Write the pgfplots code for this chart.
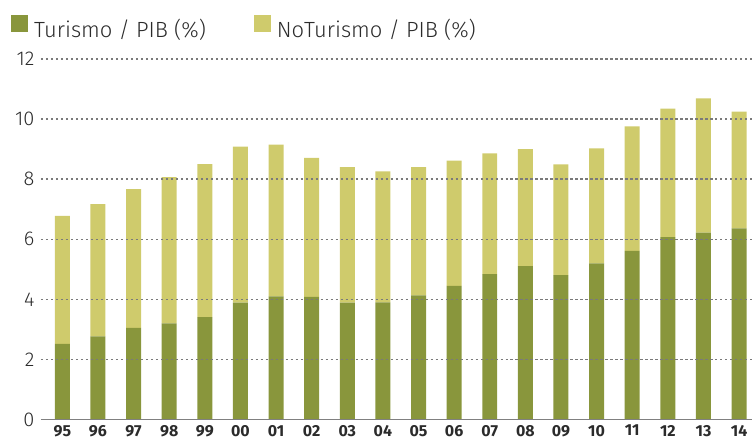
\documentclass[border=0pt]{standalone}
\usepackage{fontspec}
\setmainfont{Fira Sans Light}[BoldFont={Fira Sans Bold}]
\usepackage{pgfplots}
\usepackage{pgfplotstable}
\pgfplotsset{compat=1.18}
\definecolor{tur}{HTML}{89963C}
\definecolor{notur}{HTML}{CFCB6C}
\definecolor{txt}{HTML}{2B2B2B}
\definecolor{gridc}{HTML}{7A7A7A}
\pgfplotstableread{
x tur notur
0 2.52 4.26
1 2.77 4.40
2 3.05 4.62
3 3.20 4.87
4 3.41 5.09
5 3.89 5.19
6 4.10 5.05
7 4.08 4.63
8 3.89 4.51
9 3.90 4.36
10 4.13 4.27
11 4.45 4.17
12 4.84 4.02
13 5.11 3.89
14 4.81 3.68
15 5.20 3.82
16 5.61 4.15
17 6.07 4.28
18 6.22 4.47
19 6.36 3.89
}\data
\begin{document}
\begin{tikzpicture}
\begin{axis}[
  scale only axis, width=712pt, height=361pt,
  ybar stacked, bar width=15pt,
  xmin=-0.6, xmax=19.37, ymin=0, ymax=12,
  ytick={0,2,...,12},
  xtick={0,...,19},
  xticklabels={95,96,97,98,99,00,01,02,03,04,05,06,07,08,09,10,11,12,13,14},
  axis x line*=bottom, axis y line*=left,
  y axis line style={draw=none},
  x axis line style={draw=gray, line width=1.5pt, -},
  major tick length=0pt,
  ymajorgrids,
  grid style={draw=gridc, line width=1.4pt, dash pattern=on 2.2pt off 2.8pt},
  axis on top,
  /pgf/number format/assume math mode=true,
  yticklabel style={font=\fontsize{20}{20}\selectfont, text=txt, xshift=-3pt},
  xticklabel style={font=\bfseries\fontsize{16}{16}\selectfont, text=txt, yshift=-2pt},
  legend style={draw=none, fill=none, at={(rel axis cs:0,1)}, anchor=south west,
    xshift=-30pt, yshift=18pt, inner sep=0pt,
    font=\fontsize{22}{22}\selectfont, text=txt,
    /tikz/every odd column/.append style={column sep=4pt},
    /tikz/every even column/.append style={column sep=46pt}},
  legend columns=2,
  legend image code/.code={\fill[#1] (0pt,-3pt) rectangle (17pt,14pt);},
]
\addplot[fill=tur, draw=none] table[x=x, y=tur] {\data};
\addplot[fill=notur, draw=none] table[x=x, y=notur] {\data};
\legend{Turismo / PIB (\%), NoTurismo / PIB (\%)}
\end{axis}
\path (current axis.south west) ++(-41pt,-26pt) coordinate (bl);
\path (current axis.north east) ++(0pt,59pt) coordinate (tr);
\path[use as bounding box] (bl) rectangle (tr);
\end{tikzpicture}
\end{document}
